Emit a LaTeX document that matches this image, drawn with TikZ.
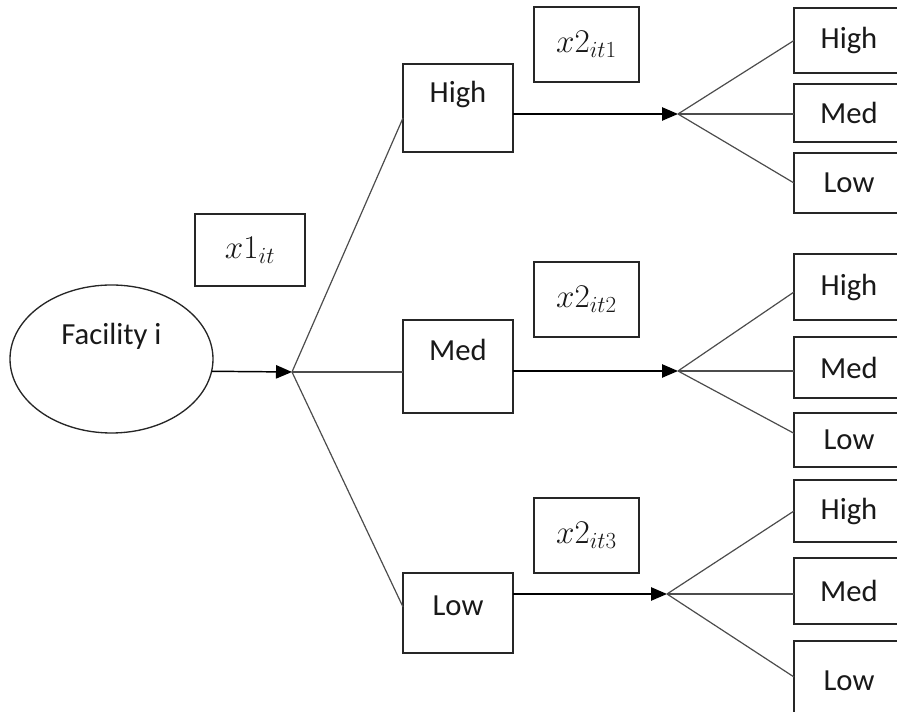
\documentclass[tikz,border=0pt]{standalone}
\usepackage[no-math]{fontspec}
\setmainfont{Carlito}
\usetikzlibrary{arrows.meta,shapes.geometric}
\begin{document}
\begin{tikzpicture}[x=0.75pt,y=-0.75pt,
  bx/.style={draw=black!85, rectangle, inner sep=0pt, outer sep=0pt, line width=1pt},
  sz/.style 2 args={minimum width=#1*0.75pt, minimum height=#2*0.75pt},
  txt/.style={font=\fontsize{23}{27}\selectfont, text=black!90},
  mth/.style={font=\fontsize{24}{28}\selectfont, text=black!90},
  ln/.style={draw=black!70, line width=0.9pt},
  arr/.style={draw=black, line width=1.1pt, -{Triangle[length=12pt,width=10pt]}},
  toplab/.style 2 args={label={[anchor=base, inner sep=0pt, yshift=-#2*0.75pt, txt]north:#1}}
]
\useasboundingbox (0,0) rectangle (897,712);
\clip (0,0) rectangle (897,712);

% left part
\node[bx, ellipse, sz={203}{148}, toplab={Facility i}{60}] (fac) at (111.5,359) {};
\node[bx, sz={110}{72}, mth] (x1) at (250,250) {$x1_{it}$};

\node[bx, sz={110}{88}, toplab={High}{39}] (hi) at (458,108) {};
\node[bx, sz={110}{93}, toplab={Med}{41}] (me) at (458,366.5) {};
\node[bx, sz={110}{80}, toplab={Low}{43}] (lo) at (458,613) {};

\node[bx, sz={105}{75}, mth] (x21) at (586.5,44.5) {$x2_{it1}$};
\node[bx, sz={105}{75}, mth] (x22) at (586.5,299.5) {$x2_{it2}$};
\node[bx, sz={105}{75}, mth] (x23) at (586.5,535.5) {$x2_{it3}$};

% right boxes
\node[bx, sz={110}{65}, txt] (aH) at (849,40.5) {High};
\node[bx, sz={110}{58}, txt] (aM) at (849,113) {Med};
\node[bx, sz={110}{60}, txt] (aL) at (849,183) {Low};
\node[bx, sz={110}{66}, txt] (bH) at (849,287) {High};
\node[bx, sz={110}{61}, txt] (bM) at (849,367.5) {Med};
\node[bx, sz={110}{54}, txt] (bL) at (849,440) {Low};
\node[bx, sz={110}{62}, txt] (cH) at (849,511) {High};
\node[bx, sz={110}{66}, txt] (cM) at (849,591) {Med};
\node[bx, sz={110}{80}, txt] (cL) at (849,681) {Low};

% branch points
\coordinate (b0) at (292,372);
\coordinate (b1) at (678,114);
\coordinate (b2) at (678,371);
\coordinate (b3) at (667,594);

% connectors
\draw[arr] (fac.-7) -- (b0);
\draw[ln] (b0) -- ([yshift=-7.5pt]hi.west);
\draw[ln] (b0) -- (me.west |- b0);
\draw[ln] (b0) -- ([yshift=4.5pt]lo.west);

\draw[arr] (hi.east |- b1) -- (b1);
\draw[arr] (me.east |- b2) -- (b2);
\draw[arr] (lo.east |- b3) -- (b3);

\draw[ln] (b1) -- (aH.west);
\draw[ln] (b1) -- (aM.west |- b1);
\draw[ln] (b1) -- (aL.west);

\draw[ln] (b2) -- ([yshift=-3.75pt]bH.west);
\draw[ln] (b2) -- (bM.west |- b2);
\draw[ln] (b2) -- ([yshift=5pt]bL.west);

\draw[ln] (b3) -- (cH.west);
\draw[ln] (b3) -- (cM.west |- b3);
\draw[ln] (b3) -- ([yshift=3pt]cL.west);
\end{tikzpicture}
\end{document}
